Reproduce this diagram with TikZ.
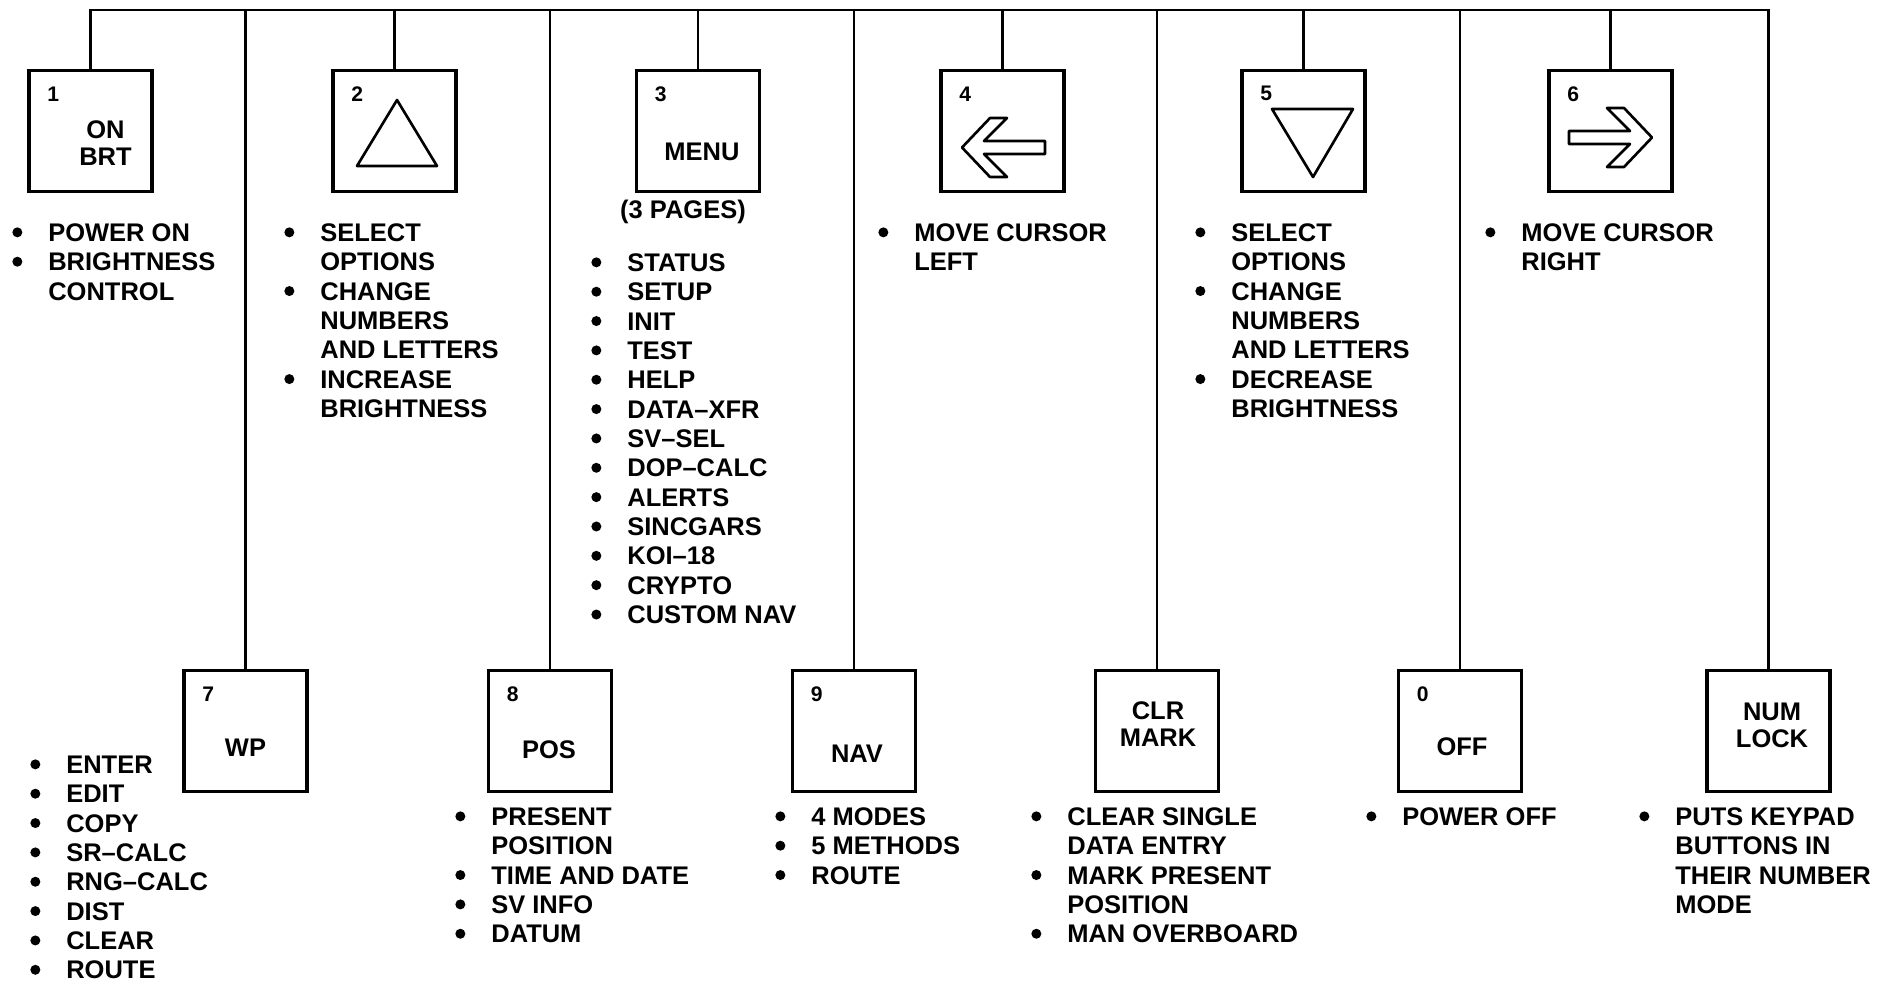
\documentclass[tikz,border=0pt]{standalone}
\usepackage{fontspec}
\setmainfont{Liberation Sans}

% punto elenco e rientro delle righe di continuazione
\newcommand{\punto}{\makebox[7.2mm][l]{\tikz[baseline=-1.83mm]\fill (0,0) circle (1mm);}}
\newcommand{\rientro}{\hspace*{7.2mm}}

\begin{document}
\begin{tikzpicture}[x=0.2mm, y=-0.2mm]
	% Stili
	\tikzset{
		tasto/.style={draw, line width=1.9pt, minimum width=24.6mm, minimum height=24.2mm, inner sep=0pt},
		numero/.style={label={[font=\fontsize{12}{12}\selectfont\bfseries, anchor=center, xshift=5.2mm, yshift=-5mm]north west:#1}},
		scritta/.style={font=\fontsize{14.5}{15.3}\selectfont\bfseries, align=center, inner sep=0pt},
		elenco/.style={anchor=north west, align=left, inner sep=0pt, font=\fontsize{14.5}{16.7}\selectfont\bfseries},
		filo/.style={line width=1.6pt},
		simbolo/.style={line width=1.5pt, line join=round}
	}
	\useasboundingbox (0,0) rectangle (1898,984);

	% Tasti superiori
	\node[tasto, numero=1] (k1) at (90.5,131) {};
	\node[tasto, numero=2] (k2) at (394.5,131) {};
	\node[tasto, numero=3] (k3) at (698,131) {};
	\node[tasto, numero=4] (k4) at (1002.5,131) {};
	\node[tasto, numero=5] (k5) at (1303.5,131) {};
	\node[tasto, numero=6] (k6) at (1610.5,131) {};

	% Tasti inferiori
	\node[tasto, numero=7] (k7) at (245.5,731) {};
	\node[tasto, numero=8] (k8) at (550,731) {};
	\node[tasto, numero=9] (k9) at (854,731) {};
	\node[tasto] (kclr) at (1157,731) {};
	\node[tasto, numero=0] (k0) at (1460,731) {};
	\node[tasto] (knum) at (1768.5,731) {};

	% Scritte sui tasti
	\node[scritta] (t1) at (105.5,143) {ON\\BRT};
	\node[scritta] (t3) at (702,151.5) {MENU};
	\node[scritta] (t7) at (245.5,747.5) {WP};
	\node[scritta] (t8) at (549,750) {POS};
	\node[scritta] (t9) at (857,753.5) {NAV};
	\node[scritta] (tclr) at (1158,724) {CLR\\MARK};
	\node[scritta] (t0) at (1462,747) {OFF};
	\node[scritta] (tnum) at (1772,725.5) {NUM\\LOCK};

	% Simboli (triangoli e frecce)
	\draw[simbolo, shift={(k2.center)}] (2.5,-31) -- (42.5,35) -- (-37.5,35) -- cycle;
	\draw[simbolo, shift={(k5.center)}] (-31.5,-22) -- (49.5,-22) -- (9.5,46) -- cycle;
	\draw[simbolo, shift={(k4.center)}] (-40.5,16.5) -- (-12.5,-13) -- (4.5,-13) -- (-18.5,10) -- (42.5,10)
		-- (42.5,23) -- (-18.5,23) -- (4.5,46) -- (-12.5,46) -- cycle;
	\draw[simbolo, shift={(k6.center)}] (41.5,6.5) -- (13.5,-23) -- (-3.5,-23) -- (19.5,0) -- (-41.5,0)
		-- (-41.5,13) -- (19.5,13) -- (-3.5,36) -- (13.5,36) -- cycle;

	% Linea comune
	\coordinate (sx) at (90.5,10);
	\coordinate (dx) at (1768.5,10);
	\draw[filo] (k1.north) -- (sx) -- (dx) -- (knum.north);

	% Collegamenti alla linea comune
	\draw[filo] (k2.north) -- (k2.north |- sx);
	\draw[filo] (k3.north) -- (k3.north |- sx);
	\draw[filo] (k4.north) -- (k4.north |- sx);
	\draw[filo] (k5.north) -- (k5.north |- sx);
	\draw[filo] (k6.north) -- (k6.north |- sx);
	\draw[filo] (k7.north) -- (k7.north |- sx);
	\draw[filo] (k8.north) -- (k8.north |- sx);
	\draw[filo] (k9.north) -- (k9.north |- sx);
	\draw[filo] (kclr.north) -- (kclr.north |- sx);
	\draw[filo] (k0.north) -- (k0.north |- sx);

	% Descrizioni dei tasti superiori
	\node[elenco] (d1) at (12,220.6) {\strut\punto POWER ON\\\punto BRIGHTNESS\\\rientro CONTROL};
	\node[elenco] (d2) at (284,220.6) {\strut\punto SELECT\\\rientro OPTIONS\\\punto CHANGE\\\rientro NUMBERS\\\rientro AND LETTERS\\\punto INCREASE\\\rientro BRIGHTNESS};
	\node[scritta] (pag) at (683,212) {(3 PAGES)};
	\node[elenco] (d3) at (591,250.6) {\strut\punto STATUS\\\punto SETUP\\\punto INIT\\\punto TEST\\\punto HELP\\\punto DATA--XFR\\\punto SV--SEL\\\punto DOP--CALC\\\punto ALERTS\\\punto SINCGARS\\\punto KOI--18\\\punto CRYPTO\\\punto CUSTOM NAV};
	\node[elenco] (d4) at (878,220.6) {\strut\punto MOVE CURSOR\\\rientro LEFT};
	\node[elenco] (d5) at (1195,220.6) {\strut\punto SELECT\\\rientro OPTIONS\\\punto CHANGE\\\rientro NUMBERS\\\rientro AND LETTERS\\\punto DECREASE\\\rientro BRIGHTNESS};
	\node[elenco] (d6) at (1485,220.6) {\strut\punto MOVE CURSOR\\\rientro RIGHT};

	% Descrizioni dei tasti inferiori
	\node[elenco] (d7) at (30,752.6) {\strut\punto ENTER\\\punto EDIT\\\punto COPY\\\punto SR--CALC\\\punto RNG--CALC\\\punto DIST\\\punto CLEAR\\\punto ROUTE};
	\node[elenco] (d8) at (455,804.6) {\strut\punto PRESENT\\\rientro POSITION\\\punto TIME AND DATE\\\punto SV INFO\\\punto DATUM};
	\node[elenco] (d9) at (775,804.6) {\strut\punto 4 MODES\\\punto 5 METHODS\\\punto ROUTE};
	\node[elenco] (dclr) at (1031,804.6) {\strut\punto CLEAR SINGLE\\\rientro DATA ENTRY\\\punto MARK PRESENT\\\rientro POSITION\\\punto MAN OVERBOARD};
	\node[elenco] (d0) at (1366,804.6) {\strut\punto POWER OFF};
	\node[elenco] (dnum) at (1639,804.6) {\strut\punto PUTS KEYPAD\\\rientro BUTTONS IN\\\rientro THEIR NUMBER\\\rientro MODE};
\end{tikzpicture}
\end{document}
